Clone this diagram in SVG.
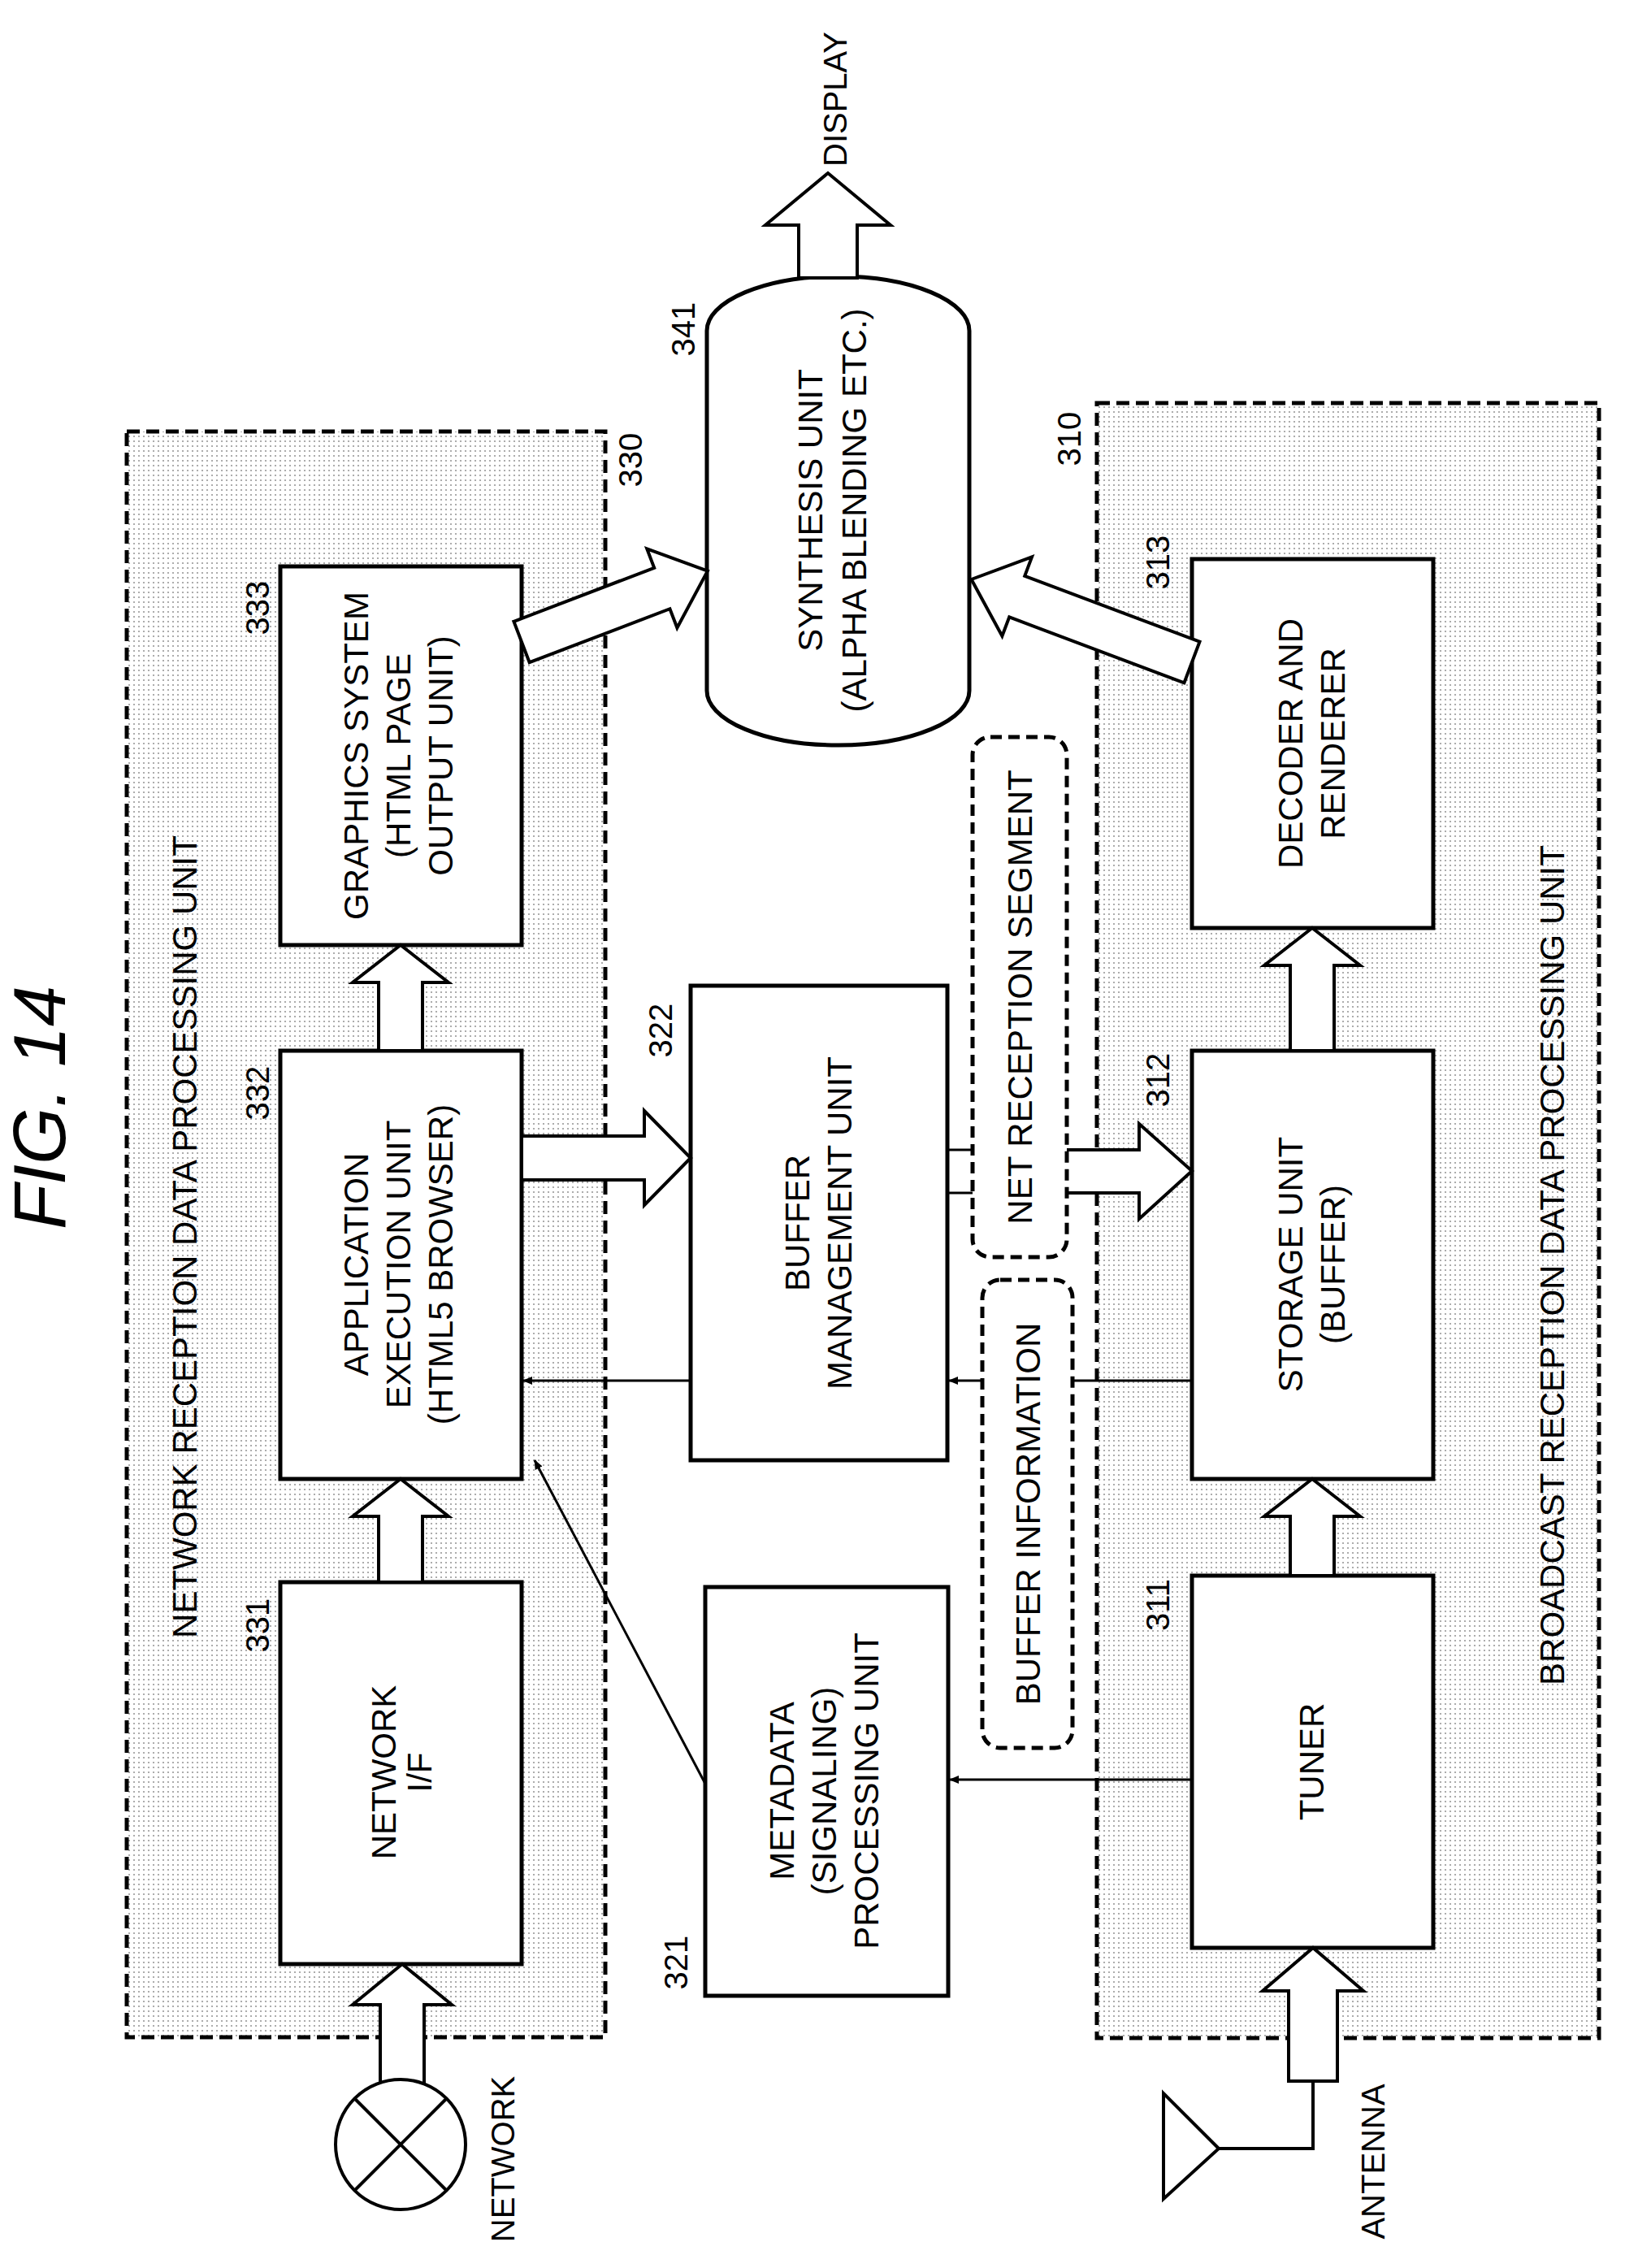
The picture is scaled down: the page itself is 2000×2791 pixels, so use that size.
<svg xmlns="http://www.w3.org/2000/svg" width="2000" height="2791" viewBox="0 0 2000 2791">
<style>
text{font-family:"Liberation Sans",Arial,sans-serif;fill:#000}
.t{font-size:42px;text-anchor:middle}
.n{font-size:40px;text-anchor:middle}
.box{fill:#fff;stroke:#000;stroke-width:5}
.grp{fill:url(#dots);stroke:#000;stroke-width:5;stroke-dasharray:16 8}
.tag{fill:#fff;stroke:#000;stroke-width:5;stroke-dasharray:14 8}
.ba{fill:#fff;stroke:#000;stroke-width:4;stroke-linejoin:miter}
.ln{fill:none;stroke:#000;stroke-width:3}
</style>
<defs>
<pattern id="dots" width="6" height="6" patternUnits="userSpaceOnUse"><rect width="6" height="6" fill="#fff"/><circle cx="3" cy="3" r="1.1" fill="#999"/></pattern>
<marker id="ah" markerWidth="12" markerHeight="10" refX="11" refY="5" orient="auto" markerUnits="userSpaceOnUse" viewBox="0 0 12 10"><path d="M0,0 L12,5 L0,10 z" fill="#000"/></marker>
</defs>
<text transform="translate(80,1363) rotate(-90)" style="font-size:90px;font-style:italic;text-anchor:middle">FIG. 14</text>

<g id="g330"><rect class="grp" x="156" y="531" width="589" height="1976"/>
<text class="t" transform="translate(242,1522) rotate(-90)">NETWORK RECEPTION DATA PROCESSING UNIT</text>
<text class="n" transform="translate(790,566) rotate(-90)">330</text></g>
<g id="g310"><rect class="grp" x="1350" y="496" width="618" height="2012"/>
<text class="t" transform="translate(1925,1557) rotate(-90)">BROADCAST RECEPTION DATA PROCESSING UNIT</text>
<text class="n" transform="translate(1330,540) rotate(-90)">310</text></g>

<g id="n331"><rect class="box" x="345" y="1947" width="297" height="470"/>
<text class="t" transform="translate(493,2181) rotate(-90)"><tspan x="0" dy="-6">NETWORK</tspan><tspan x="0" dy="44">I/F</tspan></text>
<text class="n" transform="translate(331,2000) rotate(-90)">331</text></g>
<g id="n332"><rect class="box" x="345" y="1293" width="297" height="527"/>
<text class="t" transform="translate(493,1556) rotate(-90)"><tspan x="0" dy="-40">APPLICATION</tspan><tspan x="0" dy="52">EXECUTION UNIT</tspan><tspan x="0" dy="52">(HTML5 BROWSER)</tspan></text>
<text class="n" transform="translate(331,1345) rotate(-90)">332</text></g>
<g id="n333"><rect class="box" x="345" y="697" width="297" height="466"/>
<text class="t" transform="translate(493,930) rotate(-90)"><tspan x="0" dy="-40">GRAPHICS SYSTEM</tspan><tspan x="0" dy="52">(HTML PAGE</tspan><tspan x="0" dy="52">OUTPUT UNIT)</tspan></text>
<text class="n" transform="translate(331,748) rotate(-90)">333</text></g>
<g id="n322"><rect class="box" x="850" y="1213" width="316" height="584"/>
<text class="t" transform="translate(1008,1505) rotate(-90)"><tspan x="0" dy="-12">BUFFER</tspan><tspan x="0" dy="52">MANAGEMENT UNIT</tspan></text>
<text class="n" transform="translate(827,1268) rotate(-90)">322</text></g>
<g id="n321"><rect class="box" x="868" y="1953" width="299" height="503"/>
<text class="t" transform="translate(1017,2204) rotate(-90)"><tspan x="0" dy="-40">METADATA</tspan><tspan x="0" dy="52">(SIGNALING)</tspan><tspan x="0" dy="52">PROCESSING UNIT</tspan></text>
<text class="n" transform="translate(846,2415) rotate(-90)">321</text></g>
<g id="n341"><rect class="box" x="870" y="340" width="323" height="577" rx="161" ry="67"/>
<text class="t" transform="translate(1024,628) rotate(-90)"><tspan x="0" dy="-12">SYNTHESIS UNIT</tspan><tspan x="0" dy="54">(ALPHA BLENDING ETC.)</tspan></text>
<text class="n" transform="translate(855,405) rotate(-90)">341</text></g>
<g id="n313"><rect class="box" x="1467" y="688" width="297" height="454"/>
<text class="t" transform="translate(1615,915) rotate(-90)"><tspan x="0" dy="-12">DECODER AND</tspan><tspan x="0" dy="52">RENDERER</tspan></text>
<text class="n" transform="translate(1439,692) rotate(-90)">313</text></g>
<g id="n312"><rect class="box" x="1467" y="1293" width="297" height="527"/>
<text class="t" transform="translate(1615,1556) rotate(-90)"><tspan x="0" dy="-12">STORAGE UNIT</tspan><tspan x="0" dy="52">(BUFFER)</tspan></text>
<text class="n" transform="translate(1439,1329) rotate(-90)">312</text></g>
<g id="n311"><rect class="box" x="1467" y="1939" width="297" height="458"/>
<text class="t" transform="translate(1629,2168) rotate(-90)">TUNER</text>
<text class="n" transform="translate(1439,1975) rotate(-90)">311</text></g>

<g id="connectors">
<polygon class="ba" points="468,2564 468,2467 434,2467 495,2417 556,2467 522,2467 522,2564"/>
<polygon class="ba" points="466,1947 466,1866 434,1866 493,1820 552,1866 520,1866 520,1947"/>
<polygon class="ba" points="466,1293 466,1209 434,1209 493,1163 552,1209 520,1209 520,1293"/>
<polygon class="ba" points="1588,1939 1588,1866 1556,1866 1615,1820 1674,1866 1642,1866 1642,1939"/>
<polygon class="ba" points="1588,1293 1588,1188 1556,1188 1615,1142 1674,1188 1642,1188 1642,1293"/>
<polygon class="ba" points="1586,2561 1586,2450 1554,2450 1616,2397 1678,2450 1646,2450 1646,2561"/>
<polygon class="ba" points="642,1398 793,1398 793,1367 850,1425 793,1483 793,1452 642,1452"/>
<polygon class="ba" points="1300,1415 1402,1415 1402,1383 1467,1441 1402,1500 1402,1468 1300,1468"/>
<polygon class="ba" points="983,342 983,277 942,277 1019,213 1096,277 1055,277 1055,342"/>
<polygon class="ba" transform="translate(642,790) rotate(-20.9)" points="0,-27 185,-27 185,-52 245,0 185,52 185,27 0,27"/>
<polygon class="ba" transform="translate(1467,815) rotate(200.6)" points="0,-27 230,-27 230,-52 290,0 230,52 230,27 0,27"/>
<path class="ln" d="M1166,1415 L1200,1415 M1166,1468 L1200,1468"/>
<path class="ln" marker-end="url(#ah)" d="M1467,1699 L1168,1699"/>
<path class="ln" marker-end="url(#ah)" d="M850,1699 L644,1699"/>
<path class="ln" marker-end="url(#ah)" d="M1467,2190 L1169,2190"/>
<path class="ln" marker-end="url(#ah)" d="M868,2195 L658,1797"/>
</g>

<g id="nseg"><rect class="tag" x="1197" y="907" width="116" height="640" rx="22"/>
<text class="t" transform="translate(1270,1227) rotate(-90)">NET RECEPTION SEGMENT</text></g>
<g id="nbuf"><rect class="tag" x="1209" y="1575" width="111" height="576" rx="22"/>
<text class="t" transform="translate(1280,1863) rotate(-90)">BUFFER INFORMATION</text></g>

<g id="network"><circle cx="493" cy="2639" r="80" fill="#fff" stroke="#000" stroke-width="4"/>
<path class="ln" d="M437,2583 L549,2695 M549,2583 L437,2695" style="stroke-width:4"/>
<text class="n" transform="translate(633,2657) rotate(-90)">NETWORK</text></g>
<g id="antenna"><path d="M1432,2576 L1432,2706 L1500,2644 Z" fill="#fff" stroke="#000" stroke-width="4"/>
<path class="ln" d="M1500,2644 L1616,2644 L1616,2561" style="stroke-width:4"/>
<text class="n" transform="translate(1704,2660) rotate(-90)">ANTENNA</text></g>
<text class="n" transform="translate(1042,205) rotate(-90)" style="text-anchor:start">DISPLAY</text>
</svg>
